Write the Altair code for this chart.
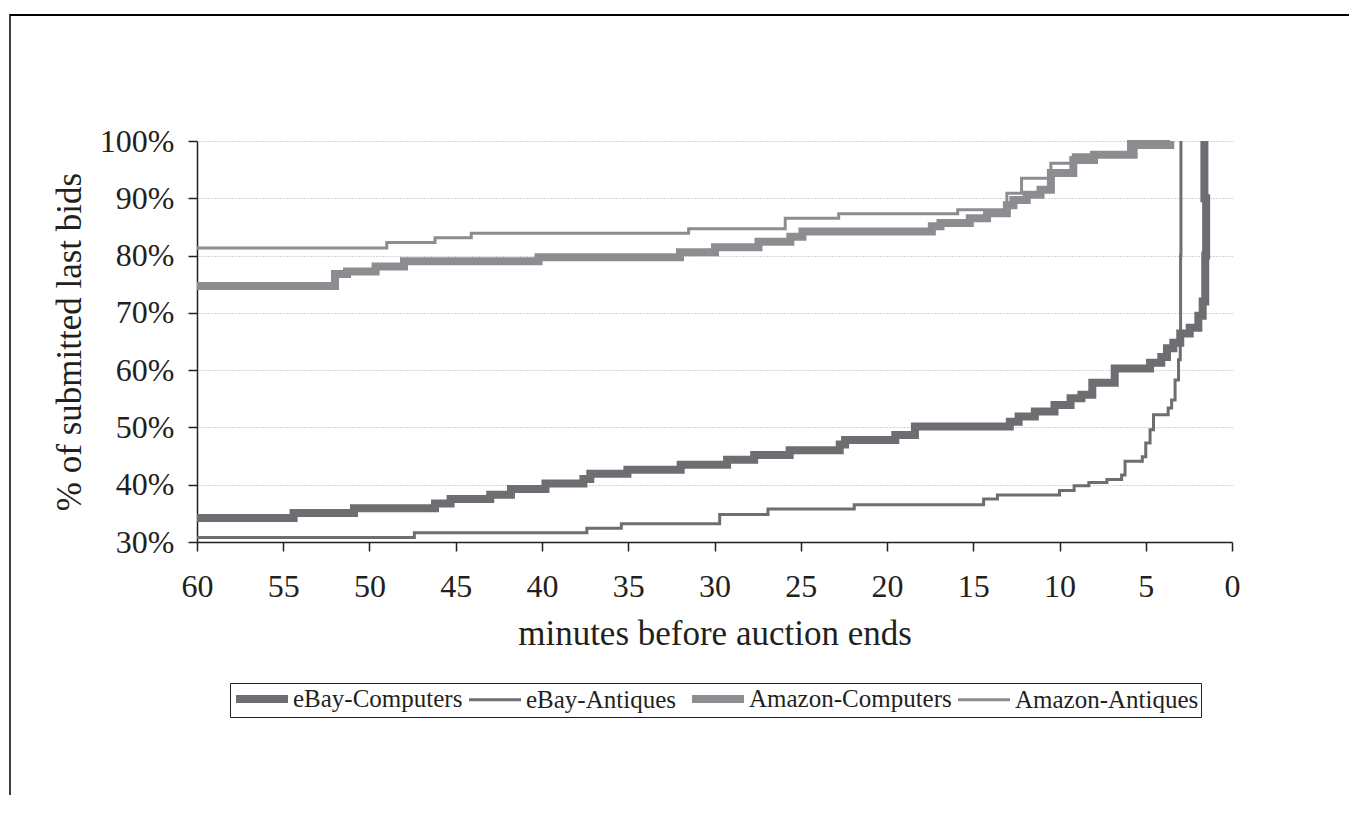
import altair as alt
import pandas as pd

series_names = ["eBay-Computers", "eBay-Antiques", "Amazon-Computers", "Amazon-Antiques"]
series_colors = ["#6d6e71", "#6d6e71", "#8c8d90", "#8c8d90"]
series_widths = [8, 3, 8, 3]

ebay_comp_min = [60, 54.4, 50.9, 46.2, 45.3, 43.0, 41.8, 39.8, 37.6, 37.2,
                 35.05, 31.96, 29.27, 27.7, 25.64, 22.74, 22.43, 19.52, 18.38, 12.88,
                 12.37, 11.43, 10.29, 9.36, 8.73, 8.1, 6.8, 4.75, 4.1, 3.77,
                 3.4, 3.0, 2.45, 1.95, 1.7, 1.55, 1.5, 1.6]
ebay_comp_pct = [34.2, 35.05, 35.9, 36.7, 37.5, 38.25, 39.25, 40.2, 41.0, 41.9,
                 42.6, 43.5, 44.35, 45.2, 46.0, 47.0, 47.8, 48.7, 50.15, 51.0,
                 51.9, 52.8, 53.9, 55.1, 55.7, 57.8, 60.3, 61.3, 62.3, 63.8,
                 64.8, 66.4, 67.4, 69.5, 72, 80, 90, 100]

ebay_ant_min = [60, 47.4, 37.4, 35.4, 29.7, 26.9, 21.9, 14.4, 13.6, 10.0,
                9.15, 8.3, 7.25, 6.4, 6.2, 5.2, 5.0, 4.75, 4.55, 3.7,
                3.5, 3.3, 3.1, 3.0, 2.98, 2.96]
ebay_ant_pct = [30.8, 31.6, 32.4, 33.2, 34.8, 35.75, 36.5, 37.5, 38.2, 39.0,
                39.8, 40.4, 40.9, 41.7, 44.1, 44.9, 47.3, 49.6, 52.2, 53.4,
                54.8, 58.3, 61.8, 65.3, 80, 100]

amz_comp_min = [60, 52.0, 51.3, 49.65, 48.0, 40.2, 32.0, 29.97, 27.45, 25.6,
                24.9, 17.4, 16.9, 15.2, 14.2, 13.05, 12.67, 11.9, 11.1, 10.5,
                9.2, 8.0, 5.7, 3.58]
amz_comp_pct = [74.7, 76.8, 77.2, 78.1, 79.0, 79.7, 80.6, 81.45, 82.4, 83.3,
                84.2, 85.1, 85.7, 86.5, 87.4, 88.8, 89.7, 90.6, 91.5, 94.4,
                96.7, 97.6, 99.3, 100]

amz_ant_min = [60, 49.0, 46.2, 44.1, 31.5, 25.9, 22.8, 15.9, 13.05, 12.2,
               10.5, 9.2, 6.0, 3.6]
amz_ant_pct = [81.3, 82.3, 83.1, 83.9, 84.7, 86.5, 87.3, 88.0, 90.9, 93.5,
               96.1, 97.6, 99.9, 100]

x_ticks = list(range(0, 61, 5))
y_ticks = list(range(30, 101, 10))

rows = []
for name, mins, pcts in zip(series_names,
                            [ebay_comp_min, ebay_ant_min, amz_comp_min, amz_ant_min],
                            [ebay_comp_pct, ebay_ant_pct, amz_comp_pct, amz_ant_pct]):
    for i, (m, p) in enumerate(zip(mins, pcts)):
        rows.append({"series": name, "minutes": m, "pct": p, "seq": i})
df = pd.DataFrame(rows)

FONT = "Liberation Serif"
INK = "#231f20"

leg = alt.Legend(
    orient="none", legendX=33, legendY=542, direction="horizontal", columns=4,
    title=None, symbolType="M-1,0H4.2", symbolSize=400, labelFontSize=25,
    labelFont=FONT, labelColor=INK, labelOffset=33, columnPadding=0, padding=2,
    labelLimit=400, strokeColor=INK, fillColor="white",
)

lines = alt.Chart(df).mark_line(interpolate="step-after", strokeCap="butt").encode(
    x=alt.X("minutes:Q",
            scale=alt.Scale(domain=[0, 60], reverse=True, nice=False),
            axis=alt.Axis(values=x_ticks, format="d", title="minutes before auction ends",
                          tickSize=9, labelFontSize=32, labelPadding=20, labelFlush=False,
                          titleFontSize=35, titlePadding=14, grid=False)),
    y=alt.Y("pct:Q",
            scale=alt.Scale(domain=[30, 100], nice=False, zero=False),
            axis=alt.Axis(values=y_ticks, labelExpr="datum.value + '%'",
                          title="% of submitted last bids", tickSize=9,
                          labelFontSize=32, labelPadding=14, titleFontSize=35,
                          titlePadding=12, grid=True, gridColor="#a8a8a8",
                          gridDash=[1, 2], gridWidth=1)),
    color=alt.Color("series:N", scale=alt.Scale(domain=series_names, range=series_colors), legend=leg),
    strokeWidth=alt.StrokeWidth("series:N",
                                scale=alt.Scale(type="ordinal", domain=series_names, range=series_widths),
                                legend=leg),
    order="seq:Q",
)

one = pd.DataFrame({"a": [0]})
frame_top = alt.Chart(one).mark_rule(color="#000000", strokeWidth=2).encode(
    x=alt.value(-187), x2=alt.value(1160), y=alt.value(-126))
frame_left = alt.Chart(one).mark_rule(color="#000000", strokeWidth=1.5).encode(
    x=alt.value(-187), y=alt.value(-127), y2=alt.value(660))

chart = alt.layer(lines, frame_top, frame_left).properties(
    width=1035, height=401,
    autosize=alt.AutoSizeParams(type="none"),
    padding={"left": 189, "top": 133, "right": 117, "bottom": 253},
).configure_view(stroke=None).configure_axis(
    labelFont=FONT, titleFont=FONT, labelColor=INK, titleColor=INK,
    domainColor=INK, tickColor=INK, domainWidth=1.5, tickWidth=1.5,
    titleFontWeight="normal",
)

chart.save("out.html", embed_options={"renderer": "svg", "actions": False})
